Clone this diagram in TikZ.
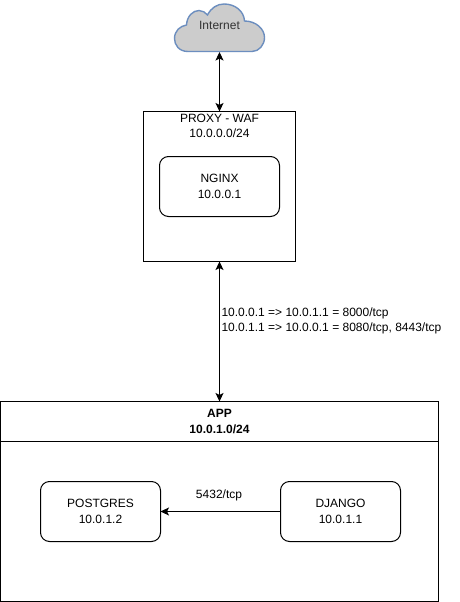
\documentclass[tikz,border=0pt]{standalone}
\usepackage{fontspec}
\setmainfont{Liberation Sans}
\usetikzlibrary{arrows.meta}
\tikzset{
  every node/.style={inner sep=0pt,outer sep=0pt,font=\fontsize{12}{15.5}\selectfont,align=center},
  boxnode/.style={draw=black,line width=1pt,rectangle},
  service/.style={draw=black,line width=1pt,rectangle,rounded corners=9pt,minimum width=120pt,minimum height=60pt},
  link/.style={draw=black,line width=1pt,{Stealth[length=8.5pt,width=8pt,inset=2pt]}-{Stealth[length=8.5pt,width=8pt,inset=2pt]}},
  oneway/.style={draw=black,line width=1pt,-{Stealth[length=8.5pt,width=8pt,inset=2pt]}},
  cloudshape/.style={draw=cloudline,fill=cloudfill,line width=1.4pt},
}
\definecolor{cloudline}{HTML}{6C8EBF}
\definecolor{cloudfill}{HTML}{CCCCCC}
\definecolor{inktext}{HTML}{333333}
\begin{document}
\begin{tikzpicture}[x=1pt,y=-1pt]
\useasboundingbox (0,0) rectangle (460,602);
\fill[white] (0,0) rectangle (460,602);
% cloud
\draw[cloudshape] (188,51.5)
  .. controls (179,51.5) and (174.5,45) .. (174.5,38.5)
  .. controls (174.5,31) and (180,26) .. (186.5,25)
  .. controls (187,16) and (193,10.5) .. (199,10.5)
  .. controls (202.5,10.5) and (205.5,12.5) .. (207.5,15)
  .. controls (211,8) and (217,4) .. (224,4)
  .. controls (235,4) and (244,11) .. (244.5,21)
  .. controls (256,21) and (264.5,29) .. (264.5,37.5)
  .. controls (264.5,45) and (259,51.5) .. (252,51.5)
  -- cycle;
\node[text=inktext] (internet) at (219.5,25.5) {Internet};
\coordinate (cloudbottom) at (219.5,52);
% proxy
\node[boxnode,minimum width=152pt,minimum height=150pt] (proxy) at (219.5,186.5) {};
\node (proxylabel) at (219.5,126) {PROXY - WAF\\10.0.0.0/24};
\node[service] (nginx) at (219.5,186.5) {NGINX\\10.0.0.1};
% app
\node[boxnode,minimum width=438pt,minimum height=199.5pt] (app) at (219.5,501.25) {};
\node[boxnode,minimum width=438pt,minimum height=40pt,font=\fontsize{12}{15.5}\selectfont\bfseries] (apphead) at (219.5,421.5) {APP\\10.0.1.0/24};
\node[service] (postgres) at (100.5,511.5) {POSTGRES\\10.0.1.2};
\node[service] (django) at (340.5,511.5) {DJANGO\\10.0.1.1};
% connectors
\draw[link] (cloudbottom) -- (proxy.north);
\draw[link] (proxy.south) -- (app.north);
\draw[oneway] (django.west) -- (postgres.east);
% labels
\node[anchor=west,align=left] (routes) at (221.5,321) {10.0.0.1 => 10.0.1.1 = 8000/tcp\\10.0.1.1 => 10.0.0.1 = 8080/tcp, 8443/tcp};
\node (dbport) at (219,495.5) {5432/tcp};
\end{tikzpicture}
\end{document}
